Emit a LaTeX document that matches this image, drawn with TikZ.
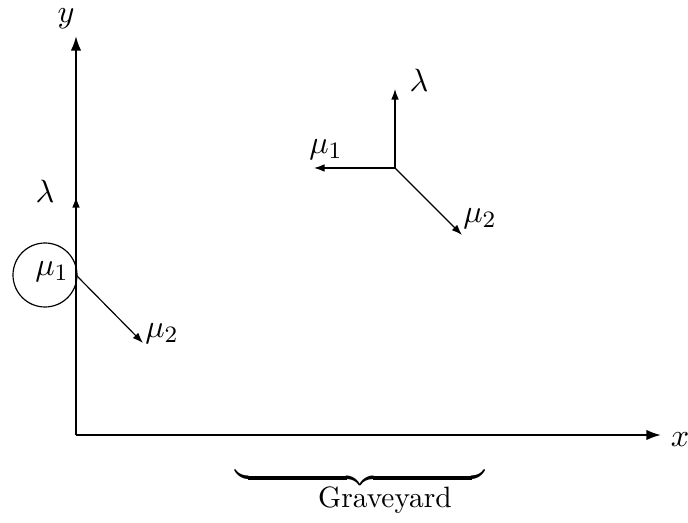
\documentclass[tikz,border=0pt]{standalone}
\usetikzlibrary{arrows.meta}
\begin{document}
\begin{tikzpicture}[x=0.34pt,y=-0.34pt,
  axis/.style={line width=0.7pt,-{Latex[length=5pt,width=3.6pt]}},
  vec/.style={line width=0.4pt,-{Latex[length=3.6pt,width=2.6pt]}},
  lbl/.style={inner sep=0pt,font=\fontsize{11}{13}\selectfont}]
\useasboundingbox (0,0) rectangle (688,523);
% axes
\coordinate (O) at (76,435);
\coordinate (Ytip) at (76,36);
\coordinate (Xtip) at (661,435);
\draw[axis] (O) -- (Ytip);
\draw[axis] (O) -- (Xtip);
\node[lbl] (ylab) at (66,19) {$y$};
\node[lbl] (xlab) at (680,440) {$x$};
% left particle
\coordinate (P) at (76,275);
\coordinate (Plam) at (76,197);
\coordinate (Pmu) at (143,343);
\draw[line width=0.4pt] (45,275) circle[radius=32];
\draw[vec] (P) -- (Plam);
\draw[vec] (P) -- (Pmu);
\node[lbl] (lamA) at (45,191) {$\lambda$};
\node[lbl] (muA) at (52,272) {$\mu_1$};
\node[lbl] (muB) at (162,334) {$\mu_2$};
% right vertex
\coordinate (Q) at (395,168);
\coordinate (Qlam) at (395,89);
\coordinate (Qmu1) at (314,168);
\coordinate (Qmu2) at (462,235);
\draw[vec] (Q) -- (Qlam);
\draw[vec] (Q) -- (Qmu1);
\draw[vec] (Q) -- (Qmu2);
\node[lbl] (lamB) at (419,80) {$\lambda$};
\node[lbl] (muC) at (326,150) {$\mu_1$};
\node[lbl] (muD) at (480,219) {$\mu_2$};
% graveyard
\node[inner sep=0pt,anchor=north] (brace) at (360,467) {$\underbrace{\hspace{85pt}}$};
\node[inner sep=0pt] (grave) at (385,500) {Graveyard};
\end{tikzpicture}
\end{document}
